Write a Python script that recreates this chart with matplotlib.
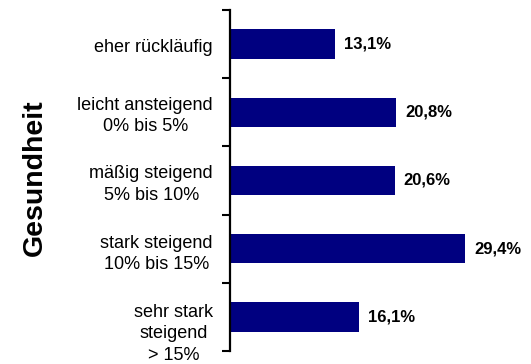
import numpy as np
import matplotlib.pyplot as plt
import matplotlib.transforms as mtransforms

plt.rcParams['font.family'] = ['Liberation Sans', 'DejaVu Sans']

categories = ['eher rückläufig',
              'leicht ansteigend\n0% bis 5%',
              'mäßig steigend\n5% bis 10%',
              'stark steigend\n10% bis 15%',
              'sehr stark\nsteigend\n> 15%']
values = [13.1, 20.8, 20.6, 29.4, 16.1]
value_labels = ['13,1%', '20,8%', '20,6%', '29,4%', '16,1%']

# downward nudge of each category label, in pixels
label_shift_px = [3, 4, 4, 5, 17]

fig = plt.figure(figsize=(5.31, 3.64), dpi=100)
ax = fig.add_axes([230 / 531, 1 - 351 / 364, 296 / 531, 341 / 364])

pos = np.arange(len(categories))
ax.barh(pos, values, height=0.43, color='#000080')
for p, v, lab in zip(pos, values, value_labels):
    ax.text(v + 1.1, p, lab, va='center', ha='left', fontsize=12,
            fontweight='bold')

ax.set_ylim(len(categories) - 0.5, -0.5)
ax.set_xlim(0, 37)

# ticks sit between the categories
ax.set_yticks(np.arange(-0.5, len(categories)))
ax.set_yticklabels([])
ax.tick_params(axis='y', which='major', length=6, width=1.5, direction='out')
ax.set_xticks([])

# category labels: block right aligned next to the axis, lines centred
for p, cat, shift in zip(pos, categories, label_shift_px):
    tr = ax.get_yaxis_transform() + mtransforms.ScaledTranslation(
        -17 / 100, -shift / 100, fig.dpi_scale_trans)
    ax.text(0, p, cat, transform=tr, ha='right', va='center',
            multialignment='center', fontsize=13, linespacing=1.32)

for s in ['top', 'right', 'bottom']:
    ax.spines[s].set_visible(False)
ax.spines['left'].set_linewidth(1.6)

fig.text(35 / 531, 1 - 178 / 364, 'Gesundheit', rotation=90, ha='center',
         va='center', fontsize=20.5, fontweight='bold')

fig.savefig('out.png', dpi=100)
